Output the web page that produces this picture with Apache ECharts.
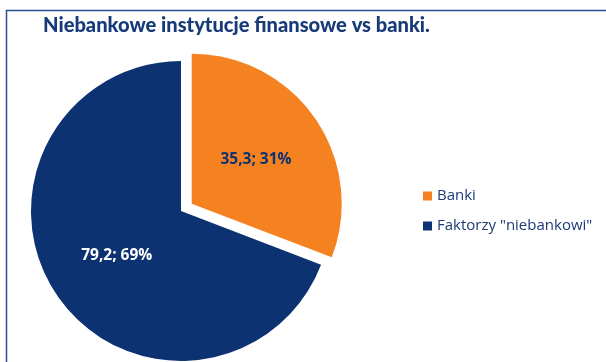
<!DOCTYPE html>
<html>
<head>
<meta charset="utf-8">
<script src="https://cdn.jsdelivr.net/npm/echarts@6/dist/echarts.min.js"></script>
<style>
  html, body { margin: 0; padding: 0; background: #ffffff; }
  #chart { width: 606px; height: 362px; }
</style>
</head>
<body>
<div id="chart"></div>
<script>
// Market share: bank factors vs non-bank factoring companies
const categories = ['Banki', 'Faktorzy "niebankowi"'];
const values = [35.3, 79.2];
const colors = ['#F58220', '#0C3272'];
const labelColors = ['#0C3272', '#ffffff'];
const titleText = 'Niebankowe instytucje finansowe vs banki.';

const chart = echarts.init(document.getElementById('chart'), null, { renderer: 'canvas' });

const pieData = categories.map((name, i) => ({
  name: name,
  value: values[i],
  selected: i === 0,
  itemStyle: { color: colors[i] },
  label: { color: labelColors[i] }
}));

chart.setOption({
  animation: false,
  backgroundColor: '#ffffff',
  title: {
    text: titleText,
    left: 43,
    top: 15,
    padding: 0,
    textStyle: {
      fontFamily: 'Lato',
      fontSize: 20.1,
      fontWeight: 900,
      color: '#173a78',
      lineHeight: 22
    }
  },
  legend: {
    orient: 'vertical',
    left: 423,
    top: 188,
    padding: 0,
    itemWidth: 9,
    itemHeight: 9,
    itemGap: 14,
    icon: 'rect',
    selectedMode: false,
    data: categories,
    textStyle: {
      fontFamily: 'Open Sans',
      fontSize: 15,
      lineHeight: 16,
      color: '#1c3a78'
    }
  },
  graphic: [
    {
      type: 'polyline',
      silent: true,
      shape: { points: [[6.5, 362], [6.5, 10.5], [606, 10.5]] },
      style: { stroke: '#2d4f92', lineWidth: 1.5, fill: null }
    }
  ],
  series: [
    {
      type: 'pie',
      center: [181, 211],
      radius: 150,
      startAngle: 90,
      clockwise: true,
      selectedMode: 'single',
      selectedOffset: 13,
      emphasis: { disabled: true },
      labelLine: { show: false },
      label: {
        show: true,
        position: 'inside',
        fontFamily: 'Open Sans',
        fontWeight: 'bold',
        fontSize: 15.5,
        formatter: function (p) {
          return p.value.toFixed(1).replace('.', ',') + '; ' + Math.round(p.percent) + '%';
        }
      },
      data: pieData
    }
  ]
});
</script>
</body>
</html>
